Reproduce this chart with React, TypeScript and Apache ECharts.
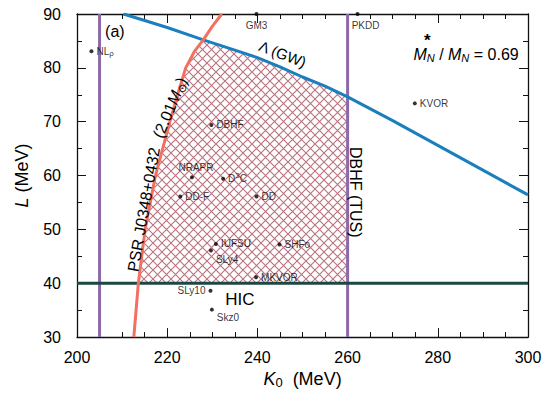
import React, { useEffect, useRef } from 'react';
import * as echarts from 'echarts';

// Axis ranges / ticks
const xRange = [200, 300];
const xInterval = 20;
const yRange = [30, 90];
const yInterval = 10;

// Λ (GW) constraint curve
const gwK = [210.3, 215, 220, 228, 235, 240, 245, 250, 255, 260, 270, 280, 290, 300];
const gwL = [90, 88.8, 87.5, 85.2, 83.3, 81.9, 80.2, 78.3, 76.6, 74.6, 70.2, 65.6, 61.0, 56.4];

// PSR J0348+0432 (2.01 Msun) curve
const psrK = [212.6, 213.6, 215.1, 217.4, 220.6, 222.3, 224.1, 226.0, 228.0, 230.0, 232.1];
const psrL = [30, 40, 50, 60, 70, 75, 80, 83, 85.2, 87.7, 90];

// Vertical / horizontal constraints
const dbhfLowK = 205;
const dbhfTusK = 260;
const hicL = 40;

// EoS model points
const modelNames = ['NLρ', 'GM3', 'PKDD', 'KVOR', 'DBHF', 'NRAPR', 'D3C', 'DD-F', 'DD', 'IUFSU', 'SLy4', 'SHFo', 'MKVOR', 'SLy10', 'Skz0'];
const modelK = [203.2, 239.8, 262.2, 274.9, 229.8, 225.5, 232.4, 222.9, 239.8, 230.8, 229.7, 244.9, 239.7, 229.6, 229.9];
const modelL = [83.1, 90, 90, 73.4, 69.4, 59.7, 59.4, 56.1, 56.1, 47.3, 46.1, 47.2, 41.1, 38.6, 35.1];

const FONT = "'Liberation Sans', Arial, Helvetica, sans-serif";

const labelText: Record<string, string> = {
  'NLρ': '{n|NL}{s|ρ}',
  'D3C': '{n|D}{u|3}{n|C}',
};
const labelPos: Record<string, any> = {
  GM3: { position: 'bottom', distance: 4 },
  PKDD: { position: 'bottom', distance: 4, offset: [8, 0] },
  NRAPR: { position: 'top', distance: 3, offset: [4, 0] },
  SLy4: { position: 'right', distance: 3, offset: [0, 9] },
  SLy10: { position: 'left', distance: 3 },
  Skz0: { position: 'right', distance: 3, offset: [0, 8] },
};

function makeHatch(): HTMLCanvasElement {
  const s = 9;
  const c = document.createElement('canvas');
  c.width = s;
  c.height = s;
  const ctx = c.getContext('2d')!;
  ctx.strokeStyle = '#b9737f';
  ctx.lineWidth = 1.1;
  ctx.beginPath();
  ctx.moveTo(0, 0);
  ctx.lineTo(s, s);
  ctx.moveTo(s, 0);
  ctx.lineTo(0, s);
  ctx.stroke();
  return c;
}

export default function App() {
  const ref = useRef<HTMLDivElement>(null);
  useEffect(() => {
    if (!ref.current) return;
    const chart = echarts.init(ref.current, null, { renderer: 'svg' });

    // hatched allowed region polygon built from curves
    const crossK = 228.0;
    const crossL = 85.2;
    const redLowK = psrK[psrL.indexOf(hicL)];
    const poly: number[][] = [];
    poly.push([redLowK, hicL]);
    poly.push([dbhfTusK, hicL]);
    for (let i = gwK.length - 1; i >= 0; i--) {
      if (gwK[i] <= dbhfTusK && gwK[i] >= crossK) poly.push([gwK[i], gwL[i]]);
    }
    for (let i = psrL.length - 1; i >= 0; i--) {
      if (psrL[i] <= crossL && psrL[i] > hicL) poly.push([psrK[i], psrL[i]]);
    }

    const hatch = makeHatch();

    const tickStyle = { color: '#111', width: 1 };
    const xBase: any = {
      type: 'value', min: xRange[0], max: xRange[1], interval: xInterval, gridIndex: 0,
      axisLine: { show: true, onZero: false, lineStyle: { color: '#111', width: 1.3 } },
      axisTick: { show: true, inside: true, length: 9, lineStyle: tickStyle },
      minorTick: { show: true, splitNumber: 4, length: 5, lineStyle: tickStyle },
      splitLine: { show: false },
    };
    const yBase: any = {
      type: 'value', min: yRange[0], max: yRange[1], interval: yInterval, gridIndex: 0,
      axisLine: { show: true, onZero: false, lineStyle: { color: '#111', width: 1.3 } },
      axisTick: { show: true, inside: true, length: 9, lineStyle: tickStyle },
      minorTick: { show: true, splitNumber: 2, length: 5, lineStyle: tickStyle },
      splitLine: { show: false },
    };

    const lineSeries = (data: number[][], color: string, z = 3) => ({
      type: 'line', data, showSymbol: false, symbol: 'none', z,
      lineStyle: { color, width: 3 }, silent: true, animation: false,
    });

    chart.setOption({
      animation: false,
      grid: { left: 77, right: 19, top: 14, bottom: 53 },
      xAxis: [
        {
          ...xBase, position: 'bottom',
          axisLabel: { show: true, margin: 12, fontSize: 16, color: '#000', fontFamily: FONT },
          name: '{i|K}{s|0}{n|  (MeV)}', nameLocation: 'middle', nameGap: 27,
          nameTextStyle: {
            fontFamily: FONT, color: '#000',
            rich: {
              i: { fontSize: 18, fontStyle: 'italic', fontFamily: FONT },
              s: { fontSize: 13, fontFamily: FONT, padding: [7, 0, 0, 0] },
              n: { fontSize: 18, fontFamily: FONT },
            },
          },
        },
        { ...xBase, position: 'top', axisLabel: { show: false } },
      ],
      yAxis: [
        {
          ...yBase, position: 'left',
          axisLabel: { show: true, margin: 16, fontSize: 16, color: '#000', fontFamily: FONT },
          name: '{i|L}{n| (MeV)}', nameLocation: 'middle', nameGap: 46, nameRotate: 90,
          nameTextStyle: {
            fontFamily: FONT, color: '#000',
            rich: {
              i: { fontSize: 18, fontStyle: 'italic', fontFamily: FONT },
              n: { fontSize: 18, fontFamily: FONT },
            },
          },
        },
        { ...yBase, position: 'right', axisLabel: { show: false } },
      ],
      series: [
        {
          type: 'custom', z: 1, silent: true, clip: true,
          data: [0],
          renderItem: (params: any, api: any) => {
            const pts = poly.map((p) => api.coord(p));
            return {
              type: 'polygon',
              shape: { points: pts },
              style: {
                fill: { image: hatch, repeat: 'repeat', imageWidth: 9, imageHeight: 9 },
                stroke: 'none',
              },
            };
          },
        },
        lineSeries([[dbhfLowK, yRange[0]], [dbhfLowK, yRange[1]]], '#8c69a8'),
        lineSeries([[dbhfTusK, yRange[0]], [dbhfTusK, yRange[1]]], '#8c69a8'),
        lineSeries([[xRange[0], hicL], [xRange[1], hicL]], '#1c4744'),
        lineSeries(gwK.map((k, i) => [k, gwL[i]]), '#1b7fbe', 4),
        lineSeries(psrK.map((k, i) => [k, psrL[i]]), '#f1705f', 4),
        {
          type: 'scatter', z: 6, symbolSize: 4, silent: true,
          itemStyle: { color: '#000' },
          data: modelNames.map((n, i) => ({
            value: [modelK[i], modelL[i]],
            name: n,
            label: {
              show: true,
              position: 'right', distance: 3,
              ...(labelPos[n] || {}),
              formatter: labelText[n] || n,
              fontSize: 10, fontFamily: FONT, color: '#000',
              rich: {
                n: { fontSize: 10, fontFamily: FONT, color: '#000' },
                s: { fontSize: 8, fontFamily: FONT, color: '#000', padding: [5, 0, 0, 0] },
                u: { fontSize: 8, fontFamily: FONT, color: '#000', padding: [0, 0, 6, 0] },
              },
            },
          })),
        },
      ],
    });

    const px = (k: number, l: number) => chart.convertToPixel({ gridIndex: 0 }, [k, l]) as number[];
    const txt = (k: number, l: number, text: string, opts: any = {}, rot = 0) => {
      const [x, y] = px(k, l);
      return {
        type: 'text', x, y, rotation: (rot * Math.PI) / 180, z: 10, silent: true,
        style: {
          text, fontFamily: FONT, fontSize: 16, fill: '#000',
          align: 'center', verticalAlign: 'middle', ...opts,
        },
      };
    };
    const richBase = {
      n: { fontSize: 16, fontFamily: FONT, fill: '#000' },
      i: { fontSize: 16, fontFamily: FONT, fontStyle: 'italic', fill: '#000' },
      s: { fontSize: 11, fontFamily: FONT, fontStyle: 'italic', fill: '#000', padding: [7, 0, 0, 0] },
      o: { fontSize: 11, fontFamily: FONT, fill: '#000', padding: [7, 0, 0, 0] },
    };

    chart.setOption({
      graphic: [
        txt(208.4, 86.7, '(a)', { fontSize: 16 }),
        txt(245.6, 82.6, 'Λ (GW)', { fontSize: 15 }, -21),
        txt(274.6, 82.4, '{i|M}{s|N}{n| / }{i|M}{s|N}{n| = 0.69}', { align: 'left', rich: richBase }),
        txt(277.7, 85.0, '*', { fontSize: 17, fontWeight: 'bold' }),
        txt(214.8, 53.7, 'PSR J0348+0432', { fontSize: 16 }, 80),
        txt(220.6, 72.6, '{n|(2.01}{i|M}{o|⊙}{n|)}', { rich: richBase }, 67),
        txt(261.8, 56.9, 'DBHF (TUS)', { fontSize: 16 }, -90),
        txt(236.1, 37.0, 'HIC', { fontSize: 17 }),
      ],
    });

    return () => chart.dispose();
  }, []);
  return <div ref={ref} style={{ width: 547, height: 394, position: 'absolute', left: 0, top: 0 }} />;
}
